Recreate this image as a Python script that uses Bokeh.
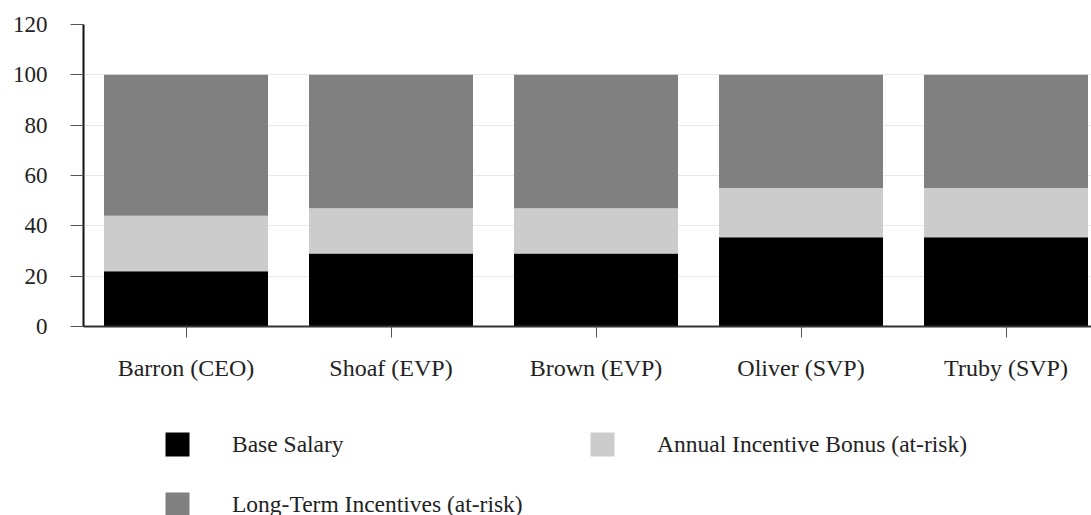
from bokeh.plotting import figure
from bokeh.layouts import column
from bokeh.models import ColumnDataSource, Range1d, FixedTicker
from bokeh.embed import file_html
from bokeh.resources import INLINE

executives = ["Barron (CEO)", "Shoaf (EVP)", "Brown (EVP)", "Oliver (SVP)", "Truby (SVP)"]
base_salary = [22, 29, 29, 35.5, 35.5]
annual_bonus = [22, 18, 18, 19.5, 19.5]
long_term = [56, 53, 53, 45, 45]
series_names = ["Base Salary", "Annual Incentive Bonus (at-risk)", "Long-Term Incentives (at-risk)"]
series_colors = ["#000000", "#cccccc", "#808080"]
y_ticks = [0, 20, 40, 60, 80, 100, 120]

positions = [i + 0.5 for i in range(len(executives))]
source = ColumnDataSource(dict(x=positions, base=base_salary, bonus=annual_bonus, lti=long_term))

FONT = "Liberation Serif"

# ---- main chart ----
p = figure(width=1091, height=415, output_backend="svg", toolbar_location=None,
           x_range=Range1d(0, 4.917), y_range=Range1d(0, 120),
           min_border_left=83, min_border_right=0, min_border_top=24, min_border_bottom=89)
p.outline_line_color = None
p.background_fill_color = "white"
p.border_fill_color = "white"

p.vbar_stack(["base", "bonus", "lti"], x="x", width=0.8, source=source,
             color=series_colors, line_color=None)

p.xgrid.visible = False
p.ygrid.grid_line_color = "#e8e8e8"
p.ygrid.grid_line_width = 1
p.ygrid.ticker = FixedTicker(ticks=y_ticks)

p.yaxis.ticker = FixedTicker(ticks=y_ticks)
p.yaxis.axis_line_width = 2
p.yaxis.axis_line_color = "#111111"
p.yaxis.major_tick_out = 13
p.yaxis.major_tick_in = 0
p.yaxis.minor_tick_out = 0
p.yaxis.minor_tick_in = 0
p.yaxis.major_tick_line_color = "#555555"
p.yaxis.major_label_standoff = 23
p.yaxis.major_label_text_font = FONT
p.yaxis.major_label_text_font_size = "23px"
p.yaxis.major_label_text_color = "#222222"

p.xaxis.ticker = FixedTicker(ticks=positions)
p.xaxis.major_label_overrides = {pos: name for pos, name in zip(positions, executives)}
p.xaxis.axis_line_width = 2
p.xaxis.axis_line_color = "#333333"
p.xaxis.major_tick_out = 11
p.xaxis.major_tick_in = 0
p.xaxis.minor_tick_out = 0
p.xaxis.minor_tick_in = 0
p.xaxis.major_tick_line_color = "#555555"
p.xaxis.major_label_standoff = 17
p.xaxis.major_label_text_font = FONT
p.xaxis.major_label_text_font_size = "24px"
p.xaxis.major_label_text_color = "#222222"

# ---- legend strip (same series, renderers hidden; only the legend shows) ----
pl = figure(width=1091, height=100, output_backend="svg", toolbar_location=None,
            x_range=Range1d(0, 4.917), y_range=Range1d(0, 120),
            min_border_left=0, min_border_right=0, min_border_top=0, min_border_bottom=0)
pl.outline_line_color = None
pl.xaxis.visible = False
pl.yaxis.visible = False
pl.grid.visible = False
legend_renderers = pl.vbar_stack(["base", "bonus", "lti"], x="x", width=0.8, source=source,
                                 color=series_colors, line_color=None, legend_label=series_names)
for r in legend_renderers:
    r.visible = False

lg = pl.legend[0]
items = list(lg.items)
lg.items = [items[0], items[2], items[1]]
lg.ncols = 2
lg.location = (79, -4)
lg.border_line_color = None
lg.background_fill_alpha = 0
lg.inactive_fill_alpha = 0
lg.padding = 0
lg.margin = 0
lg.spacing = 30
lg.glyph_width = 30
lg.glyph_height = 30
lg.label_height = 30
lg.label_width = 325
lg.label_standoff = 40
lg.label_text_font = FONT
lg.label_text_font_size = "23.5px"
lg.label_text_color = "#222222"

layout = column(p, pl, spacing=0)
open("out.html", "w").write(file_html(layout, INLINE))
